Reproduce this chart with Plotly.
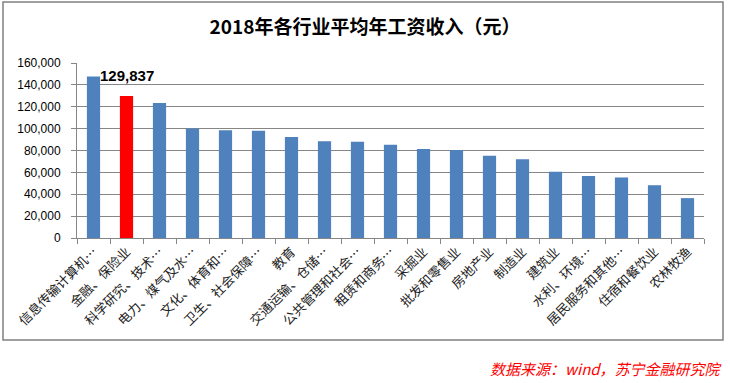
import plotly.graph_objects as go

categories = ["信息传输计算机…", "金融、保险业", "科学研究、技术…", "电力、煤气及水…",
              "文化、体育和…", "卫生、社会保障…", "教育", "交通运输、仓储…",
              "公共管理和社会…", "租赁和商务…", "采掘业", "批发和零售业",
              "房地产业", "制造业", "建筑业", "水利、环境…", "居民服务和其他…",
              "住宿和餐饮业", "农林牧渔"]
wages = [147678, 129837, 123343, 100162, 98621, 98118, 92383, 88508, 87932,
         85147, 81429, 80551, 75281, 72088, 60501, 56670, 55343, 48260, 36466]
highlight = "金融、保险业"
y_ticks = [0, 20000, 40000, 60000, 80000, 100000, 120000, 140000, 160000]

colors = ["#FF0000" if c == highlight else "#4F81BD" for c in categories]

fig = go.Figure(go.Bar(x=categories, y=wages, marker=dict(color=colors, line=dict(width=0)),
                       hoverinfo="x+y"))

hi_idx = categories.index(highlight)
fig.add_annotation(x=categories[hi_idx], y=wages[hi_idx], text="<b>129,837</b>",
                   showarrow=False, yshift=20, font=dict(family="Liberation Sans, Arial", size=15, color="black"))

fig.update_layout(
    width=730, height=383,
    margin=dict(l=77, r=26, t=63, b=145, autoexpand=False),
    paper_bgcolor="white", plot_bgcolor="white",
    bargap=0.6,
    showlegend=False,
    title=dict(text="<b>2018年各行业平均年工资收入（元）</b>", x=0.5, xanchor="center",
               y=1 - 27 / 383, yanchor="middle",
               font=dict(family="Noto Sans CJK SC", size=19, color="black")),
    xaxis=dict(type="category", tickangle=-45, tickson="boundaries", ticks="outside", ticklen=5,
               tickcolor="#868686", showline=True, linecolor="#868686", linewidth=1,
               showgrid=False, automargin=False,
               tickfont=dict(family="Noto Sans CJK SC", size=13, color="#222")),
    yaxis=dict(range=[0, 160000], tickvals=y_ticks, tickformat=",", ticks="outside", ticklen=5,
               tickcolor="#868686", showline=True, linecolor="#868686", linewidth=1,
               showgrid=True, gridcolor="#868686", gridwidth=1, zeroline=False,
               ticklabelstandoff=8, automargin=False,
               tickfont=dict(family="Liberation Sans, Arial", size=12, color="black")),
)

# outer chart border
fig.add_shape(type="rect", xref="paper", yref="paper",
              x0=(3 - 77) / 627, x1=(723 - 77) / 627,
              y0=(238 - 340) / 175, y1=(238 - 2) / 175,
              line=dict(color="#808080", width=1.5), layer="below")

fig.add_annotation(xref="paper", yref="paper", x=(724 - 77) / 627, y=(238 - 368) / 175,
                   xanchor="right", yanchor="middle", showarrow=False,
                   text="<i>数据来源：wind，苏宁金融研究院</i>",
                   font=dict(family="Noto Sans CJK SC", size=15, color="#FF0000"))

fig.write_html("out.html", config={"displayModeBar": False},
               post_script="document.body.style.margin='0';document.body.style.overflow='hidden';")
